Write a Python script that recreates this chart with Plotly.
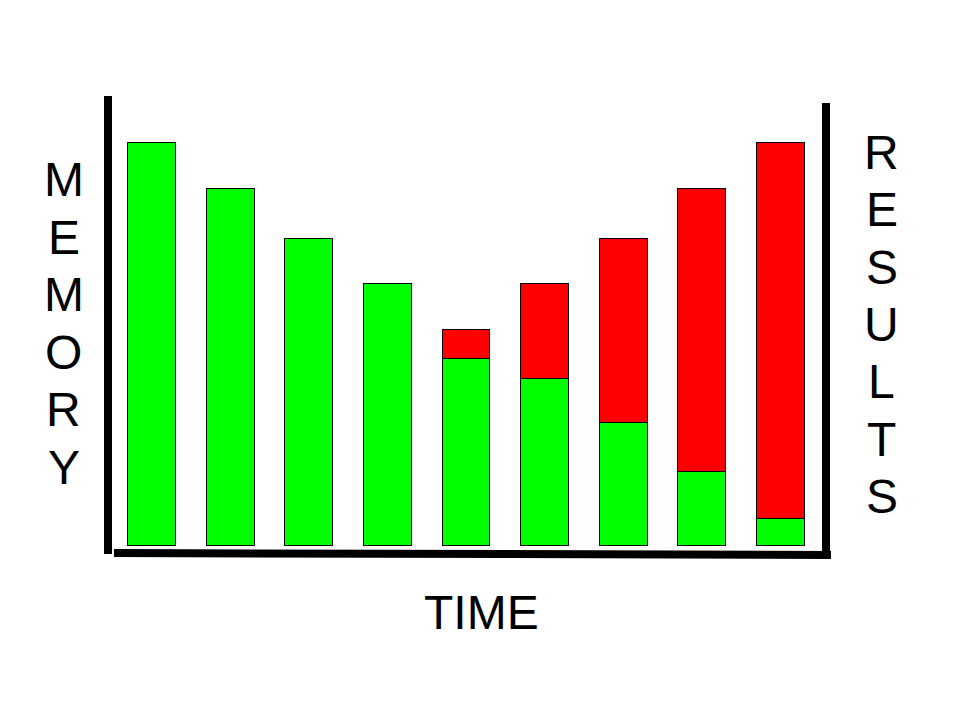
import plotly.graph_objects as go

# ---- data ----
periods = list(range(9))
memory = [100.75, 89.25, 76.75, 65.5, 46.75, 41.75, 30.75, 18.5, 6.75]
results = [0, 0, 0, 0, 7.25, 23.75, 46.0, 70.75, 94.0]
left_title = list("MEMORY")
right_title = list("RESULTS")
x_title = "TIME"

# ---- layout geometry (pixels) ----
W, H = 960, 720
OFF = 7  # page offset of the figure inside the browser window
ML, MT = 112 - OFF, 105 - OFF
PW, PH = 707, 440
MR, MB = W - ML - PW, H - MT - PH


def px(x):
    return (x - OFF - ML) / PW


def py(y):
    return (MT + PH - (y - OFF)) / PH


FONT = "Arial, Liberation Sans, sans-serif"
TXT = -2.5  # annotation box vs cap-centre correction

fig = go.Figure()
fig.add_trace(go.Bar(x=periods, y=memory, width=0.61,
                     marker=dict(color="#00FF00", line=dict(color="black", width=1.5)),
                     showlegend=False, hoverinfo="skip"))
fig.add_trace(go.Bar(x=periods, y=results, width=0.61,
                     marker=dict(color="#FF0000", line=dict(color="black", width=1.5)),
                     showlegend=False, hoverinfo="skip"))

shapes = [
    dict(type="line", xref="paper", yref="paper", x0=px(107), x1=px(107), y0=py(95), y1=py(553),
         line=dict(color="black", width=8)),
    dict(type="line", xref="paper", yref="paper", x0=px(113), x1=px(830), y0=py(552), y1=py(554),
         line=dict(color="black", width=8)),
    dict(type="line", xref="paper", yref="paper", x0=px(825), x1=px(825), y0=py(102), y1=py(558),
         line=dict(color="black", width=8)),
]

annotations = []
for i, ch in enumerate(left_title):
    annotations.append(dict(text=ch, xref="paper", yref="paper", x=px(63), y=py(181 + 57.6 * i + TXT),
                            xanchor="center", yanchor="middle", showarrow=False,
                            font=dict(family=FONT, size=48, color="black")))
for i, ch in enumerate(right_title):
    annotations.append(dict(text=ch, xref="paper", yref="paper", x=px(881), y=py(154 + 57.3 * i + TXT),
                            xanchor="center", yanchor="middle", showarrow=False,
                            font=dict(family=FONT, size=48, color="black")))
annotations.append(dict(text=x_title, xref="paper", yref="paper", x=px(480), y=py(614 + TXT),
                        xanchor="center", yanchor="middle", showarrow=False,
                        font=dict(family=FONT, size=48, color="black")))

fig.update_layout(
    width=W, height=H,
    margin=dict(l=ML, r=MR, t=MT, b=MB),
    barmode="stack", bargap=0,
    paper_bgcolor="white", plot_bgcolor="white",
    xaxis=dict(range=[-0.5, 8.5], visible=False),
    yaxis=dict(range=[0, 110], visible=False),
    shapes=shapes, annotations=annotations,
)

fig.write_html("out.html")
